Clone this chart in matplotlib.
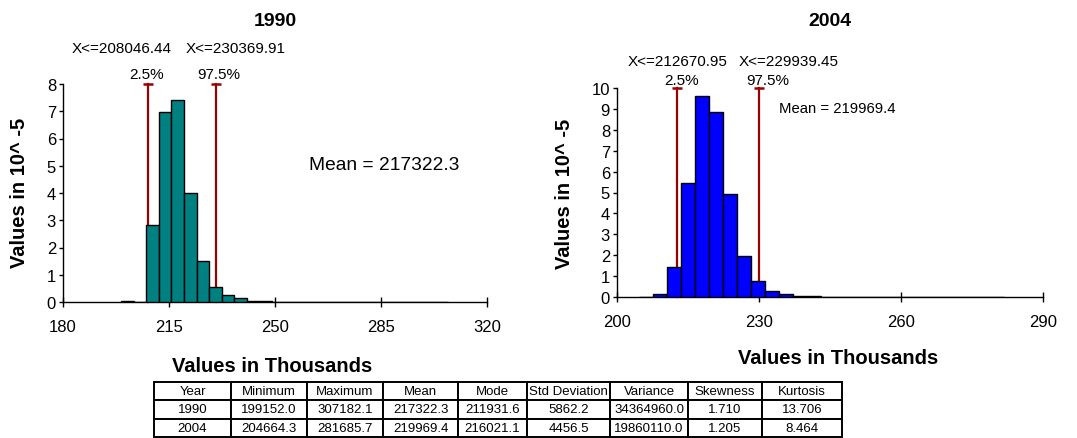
import numpy as np
import matplotlib
matplotlib.use("Agg")
import matplotlib.pyplot as plt

plt.rcParams['font.family'] = ['Liberation Sans', 'DejaVu Sans']

# ---------------- data ----------------
years = ["1990", "2004"]
n_bins = 26
range_1990 = (199.1520, 307.1821)
range_2004 = (204.6643, 281.6857)

dens_1990 = [0.02, 0.0, 2.81, 6.97, 7.43, 4.00, 1.49, 0.54, 0.25, 0.14, 0.05, 0.02,
             0.01, 0.01, 0.01, 0.01, 0.005, 0.005, 0.005, 0.005, 0.005, 0.005,
             0.005, 0.005, 0.005, 0.005]
dens_2004 = [0.02, 0.14, 1.42, 5.47, 9.63, 8.85, 4.93, 1.98, 0.75, 0.29, 0.12, 0.05,
             0.03, 0.02, 0.01, 0.01, 0.01, 0.01, 0.005, 0.005, 0.005, 0.005,
             0.005, 0.005, 0.005, 0.005]

pct_1990 = [208.04644, 230.36991]
pct_2004 = [212.67095, 229.93945]
pct_labels_1990 = ["X<=208046.44", "X<=230369.91"]
pct_labels_2004 = ["X<=212670.95", "X<=229939.45"]
mean_1990 = "Mean = 217322.3"
mean_2004 = "Mean = 219969.4"

xticks_1990 = [180, 215, 250, 285, 320]
xticks_2004 = [200, 230, 260, 290]

col_labels = ["Year", "Minimum", "Maximum", "Mean", "Mode", "Std Deviation",
              "Variance", "Skewness", "Kurtosis"]
row_1990 = ["1990", "199152.0", "307182.1", "217322.3", "211931.6", "5862.2",
            "34364960.0", "1.710", "13.706"]
row_2004 = ["2004", "204664.3", "281685.7", "219969.4", "216021.1", "4456.5",
            "19860110.0", "1.205", "8.464"]

W, H = 1077, 439
fig = plt.figure(figsize=(W / 100, H / 100), dpi=100)


def px_axes(x0, y0, x1, y1):
    return fig.add_axes([x0 / W, 1 - y1 / H, (x1 - x0) / W, (y1 - y0) / H])


def draw_hist(ax, rng, dens, color, pcts, xticks, ymax):
    edges = np.linspace(rng[0], rng[1], n_bins + 1)
    ax.bar(edges[:-1], dens, width=np.diff(edges), align="edge",
           color=color, edgecolor="black", linewidth=1.0, zorder=3)
    for p in pcts:
        ax.plot([p, p], [0, ymax], color="#990000", lw=1.6, zorder=2,
                clip_on=False)
        ax.plot([p], [ymax], marker="_", color="#990000", ms=6.5, mew=1.8,
                zorder=2, clip_on=False)
    ax.set_xlim(xticks[0], xticks[-1])
    ax.set_ylim(0, ymax)
    ax.set_xticks(xticks)
    ax.set_yticks(range(0, ymax + 1))
    for s in ["top", "right"]:
        ax.spines[s].set_visible(False)
    for s in ["left", "bottom"]:
        ax.spines[s].set_linewidth(1.0)
    ax.tick_params(axis="y", direction="out", length=3, width=1.0,
                   labelsize=12, pad=2)
    ax.tick_params(axis="x", direction="inout", length=7, width=1.0,
                   labelsize=12, pad=9)


# ---------------- 1990 ----------------
ax1 = px_axes(63, 85, 487, 303)
draw_hist(ax1, range_1990, dens_1990, "#008080", pct_1990, xticks_1990, 8)
ax1.text(199.5, 9.31, pct_labels_1990[0], ha="center", va="center", fontsize=11)
ax1.text(237.1, 9.31, pct_labels_1990[1], ha="center", va="center", fontsize=11)
ax1.text(207.7, 8.37, "2.5%", ha="center", va="center", fontsize=11)
ax1.text(231.5, 8.37, "97.5%", ha="center", va="center", fontsize=11)
ax1.text(285.9, 5.03, mean_1990, ha="center", va="center", fontsize=13.8)

# ---------------- 2004 ----------------
ax2 = px_axes(617, 89, 1043, 298)
draw_hist(ax2, range_2004, dens_2004, "#0000FF", pct_2004, xticks_2004, 10)
ax2.text(212.7, 11.28, pct_labels_2004[0], ha="center", va="center", fontsize=11)
ax2.text(236.2, 11.28, pct_labels_2004[1], ha="center", va="center", fontsize=11)
ax2.text(213.6, 10.38, "2.5%", ha="center", va="center", fontsize=11)
ax2.text(231.8, 10.38, "97.5%", ha="center", va="center", fontsize=11)
ax2.text(246.5, 9.03, mean_2004, ha="center", va="center", fontsize=10.7)

# titles and axis labels
fig.text(275 / W, 1 - 22 / H, years[0], ha="center", va="center",
         fontsize=14, fontweight="bold")
fig.text(830 / W, 1 - 22 / H, years[1], ha="center", va="center",
         fontsize=14, fontweight="bold")
fig.text(20 / W, 1 - 193 / H, "Values in 10^ -5", ha="center", va="center",
         rotation=90, fontsize=14.5, fontweight="bold")
fig.text(565 / W, 1 - 194 / H, "Values in 10^ -5", ha="center", va="center",
         rotation=90, fontsize=14.5, fontweight="bold")
fig.text(272 / W, 1 - 366 / H, "Values in Thousands", ha="center", va="center",
         fontsize=14.5, fontweight="bold")
fig.text(838 / W, 1 - 359 / H, "Values in Thousands", ha="center", va="center",
         fontsize=14.5, fontweight="bold")

# ---------------- table ----------------
col_edges = [154, 231, 307, 383, 458, 527, 610, 688, 762, 842]
tax = px_axes(col_edges[0], 383, col_edges[-1], 438)
tax.axis("off")
widths = np.diff(col_edges) / (col_edges[-1] - col_edges[0])
tbl = tax.table(cellText=[col_labels, row_1990, row_2004], colWidths=widths,
                cellLoc="center", bbox=[0, 0, 1, 1])
tbl.auto_set_font_size(False)
tbl.set_fontsize(9.5)
for cell in tbl.get_celld().values():
    cell.set_linewidth(1.4)
    cell.set_edgecolor("black")
    cell.PAD = 0.02

fig.savefig("out.png", dpi=100)
